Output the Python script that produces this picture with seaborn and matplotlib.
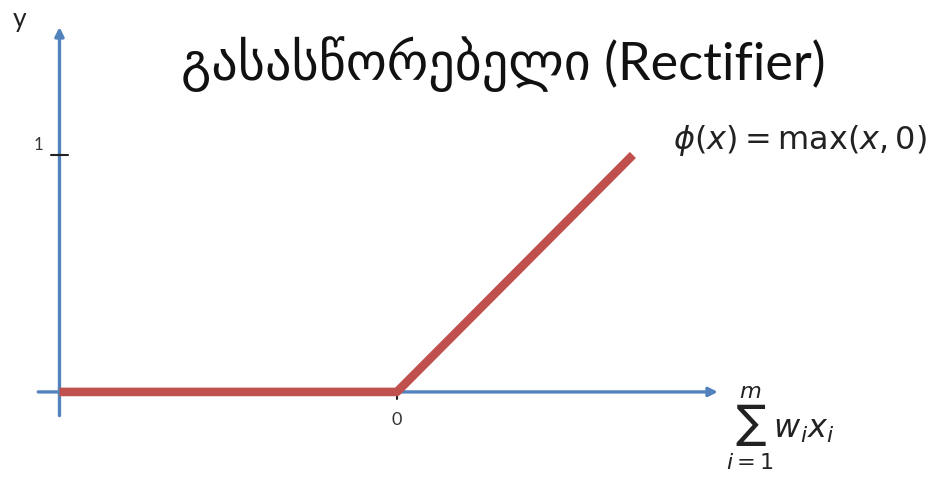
import matplotlib
matplotlib.use("Agg")
import matplotlib.pyplot as plt
import seaborn as sns
import pandas as pd

# ReLU curve: phi(x) = max(x, 0)
x_vals = [-1.43, 0.0, 1.0]
y_vals = [0.0, 0.0, 1.0]

title_text = "გასასწორებელი (Rectifier)"
formula_text = r"$\phi(x) = \max(x, 0)$"
xlabel_text = r"$\sum_{i=1}^{m} w_i x_i$"
ylabel_text = "y"
xtick_labels = ["0"]
ytick_labels = ["1"]

sns.set_theme(style="white")
plt.rcParams["font.family"] = ["Lato", "DejaVu Sans"]
plt.rcParams["mathtext.fontset"] = "dejavusans"

AXIS_COLOR = "#5283bd"
LINE_COLOR = "#c0504d"

fig = plt.figure(figsize=(9.47, 4.86), dpi=100)
ax = fig.add_axes([0, 0, 1, 1])

# axes with arrow heads
ax.annotate("", xy=(1.36, 0), xytext=(-1.52, 0),
            arrowprops=dict(arrowstyle="-|>", color=AXIS_COLOR, lw=2.4,
                            mutation_scale=13, shrinkA=0, shrinkB=0))
ax.annotate("", xy=(-1.43, 1.54), xytext=(-1.43, -0.10),
            arrowprops=dict(arrowstyle="-|>", color=AXIS_COLOR, lw=2.4,
                            mutation_scale=13, shrinkA=0, shrinkB=0))

# tick marks
ax.plot([-1.465, -1.395], [1, 1], color="#222222", lw=1.5, zorder=3)
ax.plot([0, 0], [0, -0.03], color="#222222", lw=1.5, zorder=3)

df = pd.DataFrame({"x": x_vals, "y": y_vals})
sns.lineplot(data=df, x="x", y="y", ax=ax, color=LINE_COLOR, lw=6.2,
             solid_capstyle="butt", zorder=4, sort=False)
ax.set_xlim(-1.682, 2.331)
ax.set_ylim(-0.397, 1.654)
ax.set_xlabel("")
ax.set_ylabel("")
ax.axis("off")

ax.text(0, -0.118, xtick_labels[0], ha="center", va="center", fontsize=13, color="#333333")
ax.text(-1.52, 1.04, ytick_labels[0], ha="center", va="center", fontsize=12, color="#333333")
ax.text(-1.6, 1.57, ylabel_text, ha="center", va="center", fontsize=19, color="#222222")

ax.text(0.45, 1.385, title_text, ha="center", va="center", fontsize=37.5, color="#111111")
ax.text(1.708, 1.063, formula_text, ha="center", va="center", fontsize=23, color="#222222")
ax.text(1.623, -0.152, xlabel_text, ha="center", va="center", fontsize=23, color="#222222")

fig.savefig("out.png", dpi=100)
